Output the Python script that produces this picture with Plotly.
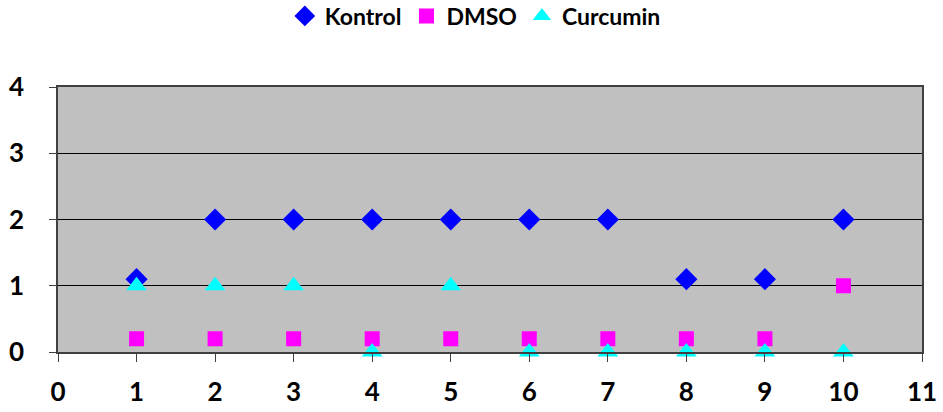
import plotly.graph_objects as go

x_vals = [1, 2, 3, 4, 5, 6, 7, 8, 9, 10]
kontrol = [1.1, 2, 2, 2, 2, 2, 2, 1.1, 1.1, 2]
dmso = [0.2, 0.2, 0.2, 0.2, 0.2, 0.2, 0.2, 0.2, 0.2, 1]
curcumin = [1, 1, 1, 0, 1, 0, 0, 0, 0, 0]

FONT = "Lato"
W, H = 943, 412

fig = go.Figure()
fig.add_trace(go.Scatter(x=x_vals, y=kontrol, mode="markers", name="Kontrol",
                         marker=dict(symbol="diamond", color="#0000FF", size=17),
                         cliponaxis=False))
fig.add_trace(go.Scatter(x=x_vals, y=dmso, mode="markers", name="DMSO",
                         marker=dict(symbol="square", color="#FF00FF", size=15),
                         cliponaxis=False))
fig.add_trace(go.Scatter(x=x_vals, y=curcumin, mode="markers", name="Curcumin",
                         marker=dict(symbol="triangle-up", color="#00FFFF", size=18),
                         cliponaxis=False))

fig.update_layout(
    width=W, height=H,
    margin=dict(l=58, r=21, t=87, b=60, autoexpand=False),
    paper_bgcolor="white",
    plot_bgcolor="#C0C0C0",
    font=dict(family=FONT, size=26, color="black"),
    legend=dict(orientation="h", x=0.483, xanchor="center", y=1 - 16 / H, yref="container",
                yanchor="middle", font=dict(family=FONT, size=23, color="black", weight="bold"),
                itemwidth=30, tracegroupgap=0),
    showlegend=True,
)
fig.update_xaxes(range=[0, 11], tickmode="linear", tick0=0, dtick=1,
                 showgrid=False, zeroline=False, automargin=False,
                 showline=True, linecolor="#404040", linewidth=1.5, mirror=True,
                 ticks="outside", ticklen=8, tickcolor="#404040", ticklabelstandoff=8,
                 tickfont=dict(family=FONT, size=26, weight="bold"))
fig.update_yaxes(range=[0, 4], tickmode="linear", tick0=0, dtick=1,
                 showgrid=True, gridcolor="black", gridwidth=1, zeroline=False, automargin=False,
                 showline=True, linecolor="#404040", linewidth=1.5, mirror=True,
                 ticks="outside", ticklen=7, tickcolor="#404040", ticklabelstandoff=20,
                 tickfont=dict(family=FONT, size=26, weight="bold"))

fig.write_html("out.html", config={"displayModeBar": False},
               post_script="document.body.style.margin='0';")
